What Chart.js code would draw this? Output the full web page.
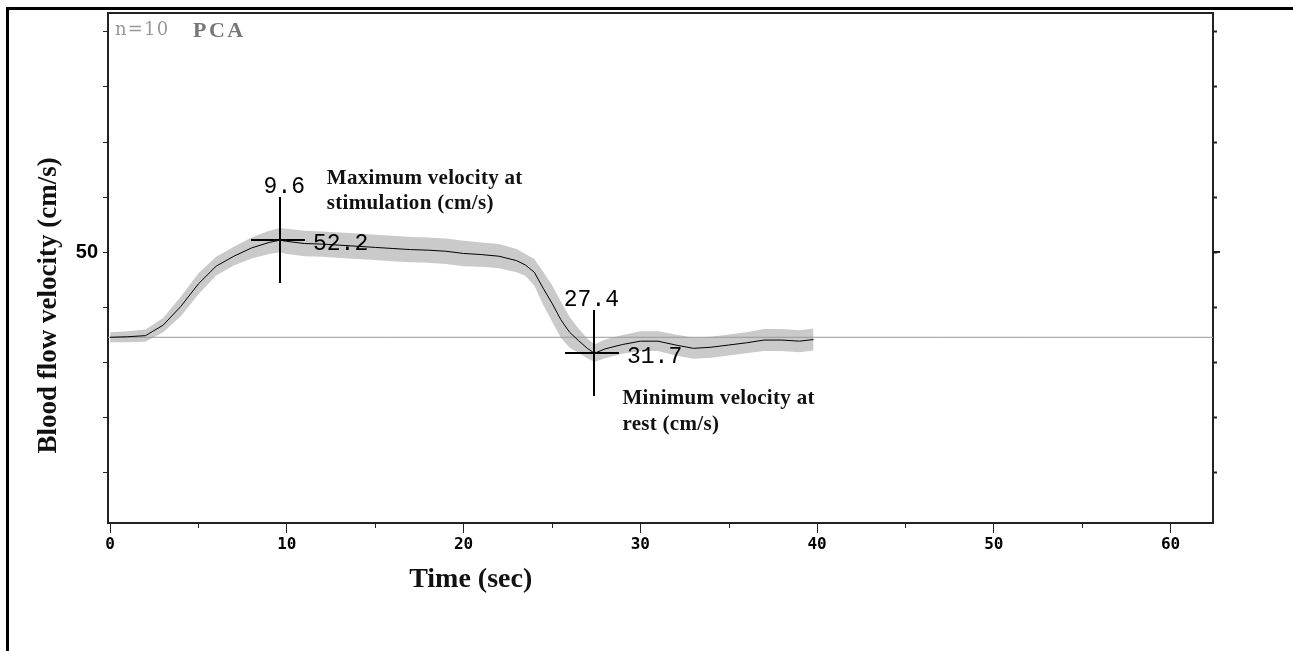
<!DOCTYPE html>
<html>
<head>
<meta charset="utf-8">
<script src="https://cdn.jsdelivr.net/npm/chart.js@4.4.1/dist/chart.umd.min.js"></script>
<style>
  html, body { margin: 0; padding: 0; background: #fff; }
  #wrap { position: relative; width: 1293px; height: 651px; }
  canvas { display: block; }
</style>
</head>
<body>
<div id="wrap"><canvas id="c" width="1293" height="651"></canvas></div>
<script>
// ---------- data ----------
const timeSec = [0,1,2,3,4,5,6,7,8,9,9.6,10,11,12,13,14,15,16,17,18,19,20,21,22,23,23.5,24,24.5,25,25.5,26,26.5,27,27.4,28,29,30,31,32,33,34,35,36,37,38,39,39.8];
const meanVelocity = [34.6,34.7,34.9,36.8,40.2,44.3,47.5,49.3,50.8,51.8,52.2,52.0,51.6,51.5,51.3,51.1,50.9,50.7,50.5,50.4,50.2,49.8,49.6,49.3,48.5,47.7,46.4,43.5,40.8,37.8,35.5,34.0,32.6,31.7,32.5,33.3,33.9,33.9,33.2,32.6,32.8,33.2,33.6,34.1,34.1,33.9,34.2];
const spread = [0.9,1.0,1.1,1.3,1.8,1.9,1.7,1.7,1.9,2.1,2.2,2.3,2.3,2.3,2.3,2.3,2.3,2.3,2.3,2.3,2.3,2.3,2.2,2.2,2.1,2.0,2.4,3.0,3.3,3.3,2.8,2.2,1.8,1.6,1.7,1.7,1.8,1.8,1.9,1.9,1.9,1.9,1.9,2.0,2.0,2.0,2.0];
const baselineVelocity = 34.6;
const peakTime = 9.6, peakVelocity = 52.2;
const minTime = 27.4, minVelocity = 31.7;
const xRange = [-0.12, 62.4];
const yRange = [0.93, 93.4];
const xTickStep = 5, xLabelStep = 10;
const yTickStep = 10, yLabelValues = [50];
const xTitle = 'Time (sec)';
const yTitle = 'Blood flow velocity (cm/s)';
const groupLabel = 'n=10';
const vesselLabel = 'PCA';
const maxNote = ['Maximum velocity at', 'stimulation (cm/s)'];
const minNote = ['Minimum velocity at', 'rest (cm/s)'];

// ---------- tables for the library ----------
const meanPts  = timeSec.map((t, i) => ({ x: t, y: meanVelocity[i] }));
const upperPts = timeSec.map((t, i) => ({ x: t, y: meanVelocity[i] + spread[i] }));
const lowerPts = timeSec.map((t, i) => ({ x: t, y: meanVelocity[i] - spread[i] }));
const basePts  = [{ x: xRange[0], y: baselineVelocity }, { x: xRange[1], y: baselineVelocity }];

function drawText(ctx, text, x, y, font, color, align, spacing) {
  ctx.save();
  ctx.font = font;
  ctx.fillStyle = color;
  ctx.textAlign = align || 'left';
  ctx.textBaseline = 'alphabetic';
  if ('letterSpacing' in ctx) ctx.letterSpacing = (spacing || 0) + 'px';
  ctx.fillText(text, x, y);
  ctx.restore();
}

function noPad(s) { s.paddingTop = 0; s.paddingBottom = 0; s.paddingLeft = 0; s.paddingRight = 0; }

const overlay = {
  id: 'overlay',
  beforeDraw(chart) {
    const ctx = chart.ctx;
    ctx.save();
    ctx.fillStyle = '#fff';
    ctx.fillRect(0, 0, chart.width, chart.height);
    ctx.restore();
  },
  afterDatasetsDraw(chart) {
    const ctx = chart.ctx, xs = chart.scales.x, ys = chart.scales.y;
    const crosses = [
      { t: peakTime, v: peakVelocity },
      { t: minTime, v: minVelocity }
    ];
    ctx.save();
    ctx.strokeStyle = '#000';
    ctx.lineWidth = 2;
    crosses.forEach(c => {
      const px = Math.round(xs.getPixelForValue(c.t));
      const py = Math.round(ys.getPixelForValue(c.v));
      ctx.beginPath();
      ctx.moveTo(px, py - 43); ctx.lineTo(px, py + 43);
      ctx.moveTo(px - 29, py); ctx.lineTo(px + 25, py);
      ctx.stroke();
      drawText(ctx, String(c.t), px + 25, py - 47, '23px "Liberation Mono", monospace', '#000', 'right');
      drawText(ctx, c.v.toFixed(1), px + 33, py + 10, '23px "Liberation Mono", monospace', '#000', 'left');
    });
    ctx.restore();

    // notes
    const pX = xs.getPixelForValue(peakTime), pY = ys.getPixelForValue(peakVelocity);
    const mX = xs.getPixelForValue(minTime), mY = ys.getPixelForValue(minVelocity);
    const noteFont = 'bold 21px "Liberation Serif", serif';
    drawText(ctx, maxNote[0], pX + 47, pY - 56, noteFont, '#111', 'left', 0.3);
    drawText(ctx, maxNote[1], pX + 47, pY - 31, noteFont, '#111', 'left', 0.3);
    drawText(ctx, minNote[0], mX + 28, mY + 51, noteFont, '#111', 'left', 0.3);
    drawText(ctx, minNote[1], mX + 28, mY + 77, noteFont, '#111', 'left', 0.3);
  },
  afterDraw(chart) {
    const ctx = chart.ctx, a = chart.chartArea, xs = chart.scales.x, ys = chart.scales.y;
    ctx.save();
    // top border of plot
    ctx.strokeStyle = '#222';
    ctx.lineWidth = 2;
    ctx.beginPath();
    ctx.moveTo(a.left, a.top); ctx.lineTo(a.right + 1, a.top);
    ctx.stroke();
    // minor x ticks
    ctx.lineWidth = 1;
    ctx.beginPath();
    for (let v = xTickStep; v < xRange[1]; v += xLabelStep) {
      const px = Math.round(xs.getPixelForValue(v)) + 0.5;
      ctx.moveTo(px, a.bottom); ctx.lineTo(px, a.bottom + 5);
    }
    ctx.stroke();
    // longer 50 tick on right axis
    ctx.lineWidth = 2;
    ctx.beginPath();
    const p50 = Math.round(ys.getPixelForValue(50));
    ctx.moveTo(a.right, p50); ctx.lineTo(a.right + 7, p50);
    ctx.stroke();
    // outer frame
    ctx.strokeStyle = '#000';
    ctx.lineWidth = 3;
    ctx.beginPath();
    ctx.moveTo(6, 8.5); ctx.lineTo(chart.width, 8.5);
    ctx.moveTo(7.5, 7); ctx.lineTo(7.5, chart.height);
    ctx.stroke();
    ctx.restore();

    // axis titles
    drawText(ctx, xTitle, xs.getPixelForValue(20.4), 587, 'bold 28px "Liberation Serif", serif', '#111', 'center');
    ctx.save();
    ctx.translate(56, ys.getPixelForValue(40.4));
    ctx.rotate(-Math.PI / 2);
    drawText(ctx, yTitle, 0, 0, 'bold 27px "Liberation Serif", serif', '#111', 'center');
    ctx.restore();

    // corner labels
    drawText(ctx, groupLabel, a.left + 7, 35, '18px "DejaVu Serif", serif', '#999', 'left', 1.2);
    drawText(ctx, vesselLabel, a.left + 85, 37, 'bold 22px "Liberation Serif", serif', '#777', 'left', 2.5);
  }
};

new Chart(document.getElementById('c'), {
  type: 'line',
  data: {
    datasets: [
      { data: meanPts, borderColor: '#000', borderWidth: 1, pointRadius: 0, fill: false, order: 0 },
      { data: basePts, borderColor: '#9a9a9a', borderWidth: 1, pointRadius: 0, fill: false, order: 1 },
      { data: upperPts, borderWidth: 0, borderColor: 'rgba(0,0,0,0)', backgroundColor: '#cacaca', pointRadius: 0, fill: '+1', order: 2 },
      { data: lowerPts, borderWidth: 0, borderColor: 'rgba(0,0,0,0)', pointRadius: 0, fill: false, order: 3 }
    ]
  },
  options: {
    responsive: false,
    animation: false,
    devicePixelRatio: 1,
    layout: { padding: { top: 13, left: 0, right: 0, bottom: 0 } },
    plugins: { legend: { display: false }, tooltip: { enabled: false } },
    elements: { line: { tension: 0 } },
    scales: {
      x: {
        type: 'linear', position: 'bottom', min: xRange[0], max: xRange[1],
        afterFit(s) { s.height = 128; noPad(s); },
        border: { color: '#222', width: 2 },
        grid: { drawOnChartArea: false, tickLength: 10, tickWidth: 1, tickColor: '#222' },
        ticks: {
          stepSize: xLabelStep, includeBounds: false, autoSkip: false, maxRotation: 0,
          padding: 2, color: '#000',
          font: { family: '"DejaVu Sans Mono", monospace', size: 16, weight: 'bold' }
        }
      },
      y: {
        type: 'linear', position: 'left', min: yRange[0], max: yRange[1],
        afterFit(s) { s.width = 108; noPad(s); },
        border: { color: '#222', width: 2 },
        grid: { drawOnChartArea: false, tickLength: 5, tickWidth: 1, tickColor: '#222' },
        ticks: {
          stepSize: yTickStep, includeBounds: false, autoSkip: false, padding: 5, color: '#000',
          callback: v => yLabelValues.includes(v) ? String(v) : '',
          font: { family: '"Liberation Sans Narrow", "Liberation Sans", sans-serif', size: 20, weight: 'bold' }
        }
      },
      y2: {
        type: 'linear', position: 'right', min: yRange[0], max: yRange[1],
        afterFit(s) { s.width = 80; noPad(s); },
        border: { color: '#222', width: 2 },
        grid: { drawOnChartArea: false, tickLength: 4, tickWidth: 2, tickColor: '#222' },
        ticks: { stepSize: yTickStep, includeBounds: false, autoSkip: false, callback: () => '' }
      }
    }
  },
  plugins: [overlay]
});
</script>
</body>
</html>
